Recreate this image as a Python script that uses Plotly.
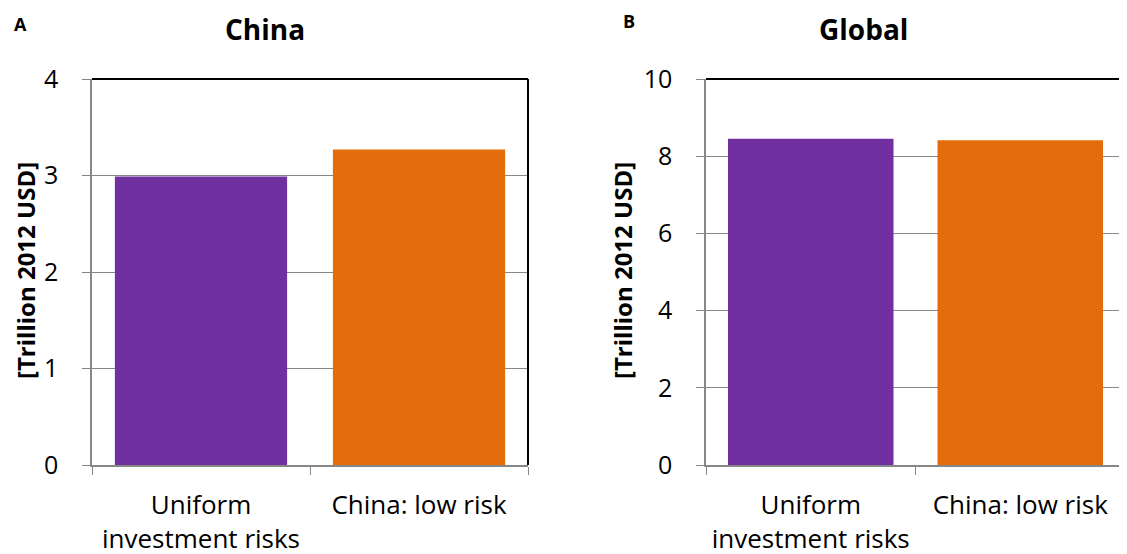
import plotly.graph_objects as go

W, H = 1127, 554
OFF = 8  # page body margin

categories = ["Uniform<br>investment risks", "China: low risk"]
china_values = [2.99, 3.27]
global_values = [8.45, 8.41]
bar_colors = ["#7030A0", "#E46C0A"]
china_ticks = [0, 1, 2, 3, 4]
global_ticks = [0, 2, 4, 6, 8, 10]

FONT = "Open Sans"
GRID = "#878787"

def px(x):
    return (x - OFF) / W

def py(y):
    return 1 - (y - OFF) / H

fig = go.Figure()
fig.add_trace(go.Bar(x=categories, y=china_values, marker=dict(color=bar_colors, line=dict(width=0)),
                     xaxis="x", yaxis="y", showlegend=False))
fig.add_trace(go.Bar(x=categories, y=global_values, marker=dict(color=bar_colors, line=dict(width=0)),
                     xaxis="x2", yaxis="y2", showlegend=False))

common_x = dict(type="category", tickson="boundaries", ticks="outside", ticklen=8, tickcolor=GRID,
                showline=True, linecolor=GRID, linewidth=1.5, showgrid=False, automargin=False,
                tickfont=dict(family=FONT, size=26, color="#000"), ticklabelstandoff=16)
common_y = dict(ticks="outside", ticklen=8, tickcolor=GRID, showline=True, linecolor=GRID, linewidth=1.5,
                showgrid=True, gridcolor=GRID, gridwidth=1.2, zeroline=False, automargin=False,
                tickfont=dict(family=FONT, size=25, color="#000"), ticklabelstandoff=19)

fig.update_layout(
    width=W, height=H, margin=dict(l=0, r=0, t=0, b=0, autoexpand=False),
    paper_bgcolor="white", plot_bgcolor="white", bargap=0.21,
    xaxis=dict(domain=[px(92), px(528)], anchor="y", **common_x),
    yaxis=dict(domain=[py(465), py(79)], anchor="x", range=[0, 4], tickvals=china_ticks, **common_y),
    xaxis2=dict(domain=[px(706), px(1125)], anchor="y2", **common_x),
    yaxis2=dict(domain=[py(465), py(79)], anchor="x2", range=[0, 10], tickvals=global_ticks, **common_y),
)

# black top / right frame
for xd, yd in [("x domain", "y domain"), ("x2 domain", "y2 domain")]:
    fig.add_shape(type="line", xref=xd, yref=yd, x0=0, x1=1, y0=1, y1=1, line=dict(color="black", width=2))
    fig.add_shape(type="line", xref=xd, yref=yd, x0=1, x1=1, y0=0, y1=1, line=dict(color="black", width=2))

ann = [
    dict(text="<b>A</b>", x=px(20), y=py(24), font=dict(size=18), yanchor="middle"),
    dict(text="<b>B</b>", x=px(629), y=py(21), font=dict(size=18), yanchor="middle"),
    dict(text="<b>China</b>", x=px(265), y=1.0, font=dict(size=28), yanchor="top"),
    dict(text="<b>Global</b>", x=px(863), y=1.0, font=dict(size=28), yanchor="top"),
    dict(text="<b>[Trillion 2012 USD]</b>", x=px(25), y=py(271), font=dict(size=24), textangle=-90, yanchor="middle"),
    dict(text="<b>[Trillion 2012 USD]</b>", x=px(622), y=py(271), font=dict(size=24), textangle=-90, yanchor="middle"),
]
for a in ann:
    a["font"].update(family=FONT, color="#000")
    fig.add_annotation(xref="paper", yref="paper", showarrow=False, xanchor="center", **a)

fig.write_html("out.html")
